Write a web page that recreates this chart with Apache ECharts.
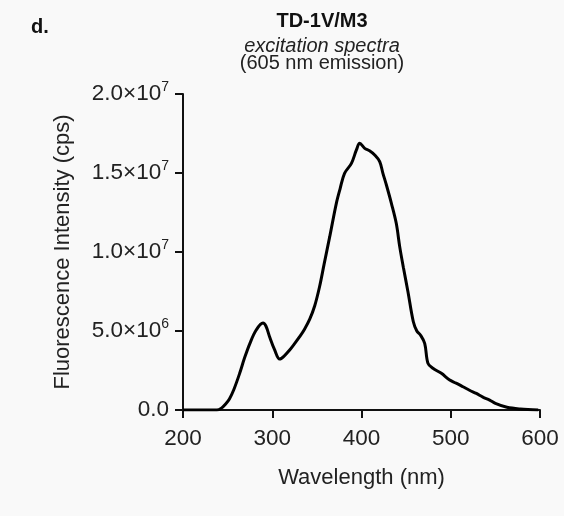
<!DOCTYPE html>
<html>
<head>
<meta charset="utf-8">
<script src="https://cdn.jsdelivr.net/npm/echarts@6/dist/echarts.min.js"></script>
<style>
  html, body { margin: 0; padding: 0; background: #f9f9f9; }
  #chart { width: 564px; height: 516px; }
</style>
</head>
<body>
<div id="chart"></div>
<script>
// excitation spectrum
const wavelength = [200, 225, 238, 243, 248, 252, 257, 263.5, 269, 275, 282, 289.6, 293, 297,
  302.7, 308.3, 313, 319.5, 325, 330.7, 336, 342, 347.6, 353, 358, 364.4, 371.8, 376, 381,
  388.7, 394.3, 398, 403.6, 409, 414.8, 420.4, 424, 427.9, 433.5, 439, 442.8, 447, 452, 458,
  462, 466, 470.8, 474.5, 480, 489.5, 498.8, 506, 513.7, 521, 528.7, 536, 543.6, 550, 563,
  578, 598];
const intensity = [0, 0, 0, 1.2e5, 4e5, 7e5, 1.3e6, 2.32e6, 3.3e6, 4.22e6, 5.06e6, 5.5e6,
  5.3e6, 4.64e6, 3.8e6, 3.22e6, 3.4e6, 3.8e6, 4.2e6, 4.64e6, 5.1e6, 5.75e6, 6.6e6, 7.8e6,
  9.2e6, 1.097e7, 1.308e7, 1.4e7, 1.498e7, 1.561e7, 1.646e7, 1.688e7, 1.656e7, 1.641e7,
  1.614e7, 1.572e7, 1.498e7, 1.424e7, 1.308e7, 1.18e7, 1.034e7, 9.0e6, 7.5e6, 5.6e6, 5.0e6,
  4.75e6, 4.22e6, 2.95e6, 2.64e6, 2.32e6, 1.9e6, 1.7e6, 1.47e6, 1.25e6, 1.05e6, 8.2e5,
  6.3e5, 4.2e5, 1.7e5, 6e4, 0];

const xTicks = [200, 300, 400, 500, 600];
const yTickLabels = {
  0: '{m|0.0}',
  5000000: '{m|5.0×10}{s|6}',
  10000000: '{m|1.0×10}{s|7}',
  15000000: '{m|1.5×10}{s|7}',
  20000000: '{m|2.0×10}{s|7}'
};

const font = 'Liberation Sans, Arial, sans-serif';
const chart = echarts.init(document.getElementById('chart'));

chart.setOption({
  backgroundColor: '#f9f9f9',
  animation: false,
  grid: { left: 183, right: 24, top: 94, bottom: 106 },
  graphic: [
    { type: 'text', left: 31, top: 17,
      style: { text: 'd.', font: 'bold 20px ' + font, fill: '#111' } },
    { type: 'text', x: 322, y: 21,
      style: { text: 'TD-1V/M3', font: 'bold 20px ' + font, fill: '#111',
        textAlign: 'center', textVerticalAlign: 'middle' } },
    { type: 'text', x: 322, y: 46,
      style: { text: 'excitation spectra', font: 'italic 20px ' + font, fill: '#222',
        textAlign: 'center', textVerticalAlign: 'middle' } },
    { type: 'text', x: 322, y: 63,
      style: { text: '(605 nm emission)', font: '20px ' + font, fill: '#222',
        textAlign: 'center', textVerticalAlign: 'middle' } }
  ],
  xAxis: {
    type: 'value',
    min: xTicks[0],
    max: xTicks[xTicks.length - 1],
    interval: 100,
    name: 'Wavelength (nm)',
    nameLocation: 'middle',
    nameGap: 57,
    nameTextStyle: { fontFamily: font, fontSize: 22, color: '#222' },
    splitLine: { show: false },
    axisLine: { lineStyle: { color: '#111', width: 2 } },
    axisTick: { length: 8, lineStyle: { color: '#111', width: 2 } },
    axisLabel: { margin: 17, fontFamily: font, fontSize: 22.5, color: '#222' }
  },
  yAxis: {
    type: 'value',
    min: 0,
    max: 20000000,
    interval: 5000000,
    name: 'Fluorescence Intensity (cps)',
    nameLocation: 'middle',
    nameGap: 109,
    nameTextStyle: { fontFamily: font, fontSize: 22, color: '#222' },
    splitLine: { show: false },
    axisLine: { show: true, lineStyle: { color: '#111', width: 2 } },
    axisTick: { show: true, length: 8, lineStyle: { color: '#111', width: 2 } },
    axisLabel: {
      margin: 14,
      formatter: (v) => yTickLabels[v] || '',
      rich: {
        m: { fontFamily: font, fontSize: 22.5, color: '#222' },
        s: { fontFamily: font, fontSize: 14, color: '#222', padding: [0, 0, 14, 0] }
      }
    }
  },
  series: [{
    type: 'line',
    data: wavelength.map((w, i) => [w, intensity[i]]),
    smooth: 0.35,
    showSymbol: false,
    lineStyle: { color: '#000', width: 3 }
  }]
});
</script>
</body>
</html>
